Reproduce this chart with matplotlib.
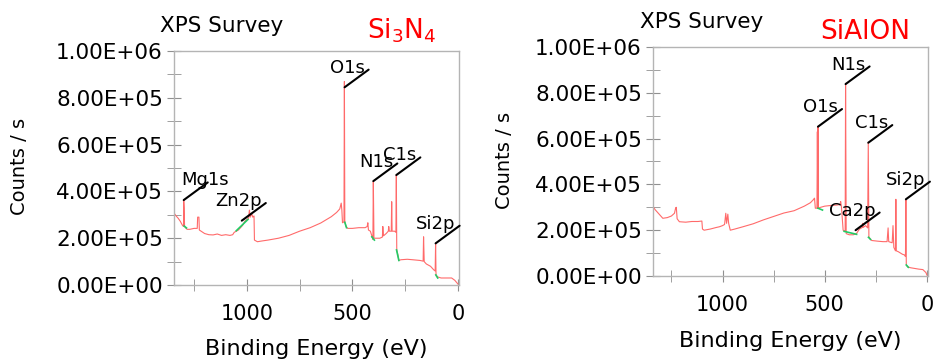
import matplotlib.pyplot as plt
from matplotlib.ticker import MultipleLocator, FuncFormatter

# Si3N4 survey spectrum: binding energy (eV) and counts / s
si3n4_be = [1345, 1335, 1325, 1315, 1305, 1300, 1299, 1297, 1295, 1290, 1283, 1270,
            1250, 1235, 1233, 1227, 1225, 1200, 1180, 1160, 1140, 1120, 1100, 1080,
            1067, 1060, 1040, 1020, 1010, 1000, 992, 988, 984, 977, 972, 966,
            964, 950, 930, 900, 850, 800, 750, 700, 650, 600, 575, 560,
            553, 550, 547, 540, 538, 536, 530, 522, 500, 470, 440, 430,
            427, 424, 415, 408, 403, 401, 398, 390, 370, 358, 356, 353,
            340, 330, 328, 325, 316, 314, 312, 300, 294, 292, 290, 285,
            280, 270, 240, 215, 180, 165, 163, 160, 150, 130, 115, 108,
            106, 104, 98, 80, 50, 30, 15, 0]
si3n4_counts = [3.08e5, 2.95e5, 2.85e5, 2.72e5, 2.55e5, 2.50e5, 3.63e5, 3.30e5, 2.50e5, 2.44e5, 2.38e5, 2.38e5,
                2.42e5, 2.42e5, 2.90e5, 2.90e5, 2.35e5, 2.20e5, 2.15e5, 2.14e5, 2.18e5, 2.12e5, 2.15e5, 2.12e5,
                2.15e5, 2.25e5, 2.35e5, 2.55e5, 2.72e5, 2.80e5, 2.85e5, 3.20e5, 2.90e5, 3.05e5, 2.90e5, 2.95e5,
                1.92e5, 1.85e5, 1.88e5, 1.92e5, 2.00e5, 2.12e5, 2.30e5, 2.45e5, 2.65e5, 2.92e5, 3.10e5, 3.25e5,
                3.50e5, 3.20e5, 2.66e5, 2.70e5, 8.70e5, 2.70e5, 2.50e5, 2.42e5, 2.42e5, 2.45e5, 2.45e5, 2.50e5,
                2.66e5, 2.35e5, 2.30e5, 2.10e5, 1.95e5, 4.42e5, 2.00e5, 2.00e5, 2.00e5, 2.05e5, 2.50e5, 2.10e5,
                2.20e5, 2.30e5, 2.50e5, 2.30e5, 2.30e5, 3.56e5, 2.30e5, 2.30e5, 2.25e5, 4.70e5, 1.50e5, 1.30e5,
                1.05e5, 1.08e5, 1.10e5, 1.08e5, 1.05e5, 1.02e5, 2.06e5, 1.00e5, 0.90e5, 0.80e5, 0.65e5, 0.60e5,
                1.78e5, 0.45e5, 0.35e5, 0.30e5, 0.30e5, 0.30e5, 0.20e5, 0.04e5]

# SiAlON survey spectrum
sialon_be = [1341, 1330, 1315, 1300, 1292, 1270, 1250, 1235, 1229, 1226, 1222, 1211,
             1180, 1150, 1120, 1101, 1098, 1090, 1060, 1030, 1015, 1000, 990, 984,
             980, 974, 970, 962, 940, 900, 850, 800, 750, 700, 650, 600,
             570, 557, 550, 546, 538, 536, 534, 533, 531, 520, 500, 470,
             440, 425, 422, 418, 410, 400, 398, 395, 380, 360, 345, 330,
             316, 314, 312, 300, 290, 287, 284, 278, 270, 240, 215, 195,
             190, 187, 170, 166, 162, 154, 152, 150, 140, 120, 110, 105,
             103, 101, 95, 80, 60, 40, 20, 5, 0]
sialon_counts = [3.06e5, 2.90e5, 2.75e5, 2.60e5, 2.52e5, 2.55e5, 2.62e5, 2.74e5, 2.98e5, 3.00e5, 2.50e5, 2.37e5,
                 2.35e5, 2.38e5, 2.38e5, 2.40e5, 2.05e5, 2.00e5, 2.05e5, 2.12e5, 2.15e5, 2.20e5, 2.25e5, 2.74e5,
                 2.30e5, 2.70e5, 2.30e5, 2.00e5, 2.05e5, 2.15e5, 2.28e5, 2.45e5, 2.60e5, 2.75e5, 2.85e5, 3.05e5,
                 3.20e5, 3.32e5, 3.40e5, 2.96e5, 2.96e5, 6.30e5, 2.96e5, 6.52e5, 2.97e5, 3.00e5, 3.05e5, 3.08e5,
                 3.10e5, 3.12e5, 3.25e5, 3.00e5, 2.00e5, 1.95e5, 8.41e5, 1.85e5, 1.80e5, 1.80e5, 1.85e5, 2.05e5,
                 2.12e5, 2.30e5, 2.12e5, 2.20e5, 2.10e5, 5.82e5, 1.72e5, 1.62e5, 1.55e5, 1.52e5, 1.50e5, 1.50e5,
                 2.10e5, 1.50e5, 1.45e5, 2.20e5, 1.25e5, 1.10e5, 3.35e5, 1.10e5, 1.06e5, 0.95e5, 0.92e5, 0.85e5,
                 3.35e5, 0.50e5, 0.40e5, 0.36e5, 0.33e5, 0.30e5, 0.28e5, 0.15e5, 0.04e5]

# background (green) segments under the peaks
si3n4_bg_be = [(1297, 1286), (1050, 995), (536, 528), (408, 396), (291, 280), (105, 96)]
si3n4_bg_counts = [(2.52e5, 2.44e5), (2.32e5, 2.80e5), (2.68e5, 2.45e5), (2.06e5, 1.92e5),
                   (1.50e5, 1.05e5), (0.43e5, 0.30e5)]
sialon_bg_be = [(533, 511), (405, 344), (286, 276), (101, 91)]
sialon_bg_counts = [(2.96e5, 2.88e5), (1.95e5, 1.82e5), (1.69e5, 1.60e5), (0.48e5, 0.38e5)]

# peak labels
si3n4_labels = ['Mg1s', 'Zn2p', 'O1s', 'N1s', 'C1s', 'Si2p']
si3n4_label_be = [1299, 1024, 537, 401, 292, 106]
si3n4_label_counts = [3.63e5, 2.75e5, 8.45e5, 4.44e5, 4.70e5, 1.78e5]
sialon_labels = ['O1s', 'N1s', 'Ca2p', 'C1s', 'Si2p']
sialon_label_be = [533, 398, 349, 287, 103]
sialon_label_counts = [6.52e5, 8.38e5, 2.00e5, 5.82e5, 3.35e5]

LINE = '#ff6a6a'
GREEN = '#22cc66'
GRID = '#b4b4b4'
FS = 15


def draw_panel(ax, be, counts, bg_be, bg_counts, labels, lab_be, lab_counts, xmax):
    ax.plot(be, counts, color=LINE, lw=0.8)
    for (b0, b1), (c0, c1) in zip(bg_be, bg_counts):
        ax.plot([b0, b1], [c0, c1], color=GREEN, lw=1.2)

    for name, b, c in zip(labels, lab_be, lab_counts):
        ax.annotate('', xy=(b, c), xytext=(17.3, 12.7), textcoords='offset points',
                    arrowprops=dict(arrowstyle='-', color='black', lw=1.5,
                                    shrinkA=0, shrinkB=0),
                    annotation_clip=False)
        dx = 15 if name == 'Mg1s' else -3
        ax.annotate(name, xy=(b, c), xytext=(17.3 + dx, 12.7 - 2.2),
                    textcoords='offset points', ha='right', va='baseline',
                    fontsize=13, color='black', annotation_clip=False)

    ax.set_xlim(xmax, -5)
    ax.set_ylim(0, 1e6)
    ax.xaxis.set_major_locator(MultipleLocator(500))
    ax.xaxis.set_minor_locator(MultipleLocator(250))
    ax.yaxis.set_major_locator(MultipleLocator(2e5))
    ax.yaxis.set_minor_locator(MultipleLocator(1e5))
    ax.yaxis.set_major_formatter(FuncFormatter(lambda v, p: f'{v:.2E}'))
    ax.tick_params(axis='x', which='both', direction='inout', length=8,
                   color='#909090', pad=10, labelsize=FS)
    ax.tick_params(axis='y', which='both', direction='inout', length=10,
                   color='#909090', pad=3, labelsize=FS + 0.5)
    for s in ax.spines.values():
        s.set_color(GRID)
        s.set_linewidth(1.0)


fig = plt.figure(figsize=(9.33, 3.59), dpi=100)
fig.patch.set_facecolor('white')

ax1 = fig.add_axes([0.1865, 0.2061, 0.3055, 0.6518])
draw_panel(ax1, si3n4_be, si3n4_counts, si3n4_bg_be, si3n4_bg_counts,
           si3n4_labels, si3n4_label_be, si3n4_label_counts, 1345)

ax2 = fig.add_axes([0.6999, 0.2312, 0.2947, 0.6379])
draw_panel(ax2, sialon_be, sialon_counts, sialon_bg_be, sialon_bg_counts,
           sialon_labels, sialon_label_be, sialon_label_counts, 1340)

# titles, sample names and axis labels
fig.text(0.1715, 0.910, 'XPS Survey', fontsize=15.5, va='baseline')
fig.text(0.686, 0.921, 'XPS Survey', fontsize=15.5, va='baseline')
fig.text(0.3934, 0.8914, r'Si$_3$N$_4$', fontsize=19, color='red', va='baseline')
fig.text(0.8789, 0.8914, 'SiAlON', fontsize=19, color='red', va='baseline')

fig.text(0.0214, 0.535, 'Counts / s', fontsize=14, rotation=90, ha='center', va='center')
fig.text(0.5407, 0.554, 'Counts / s', fontsize=14, rotation=90, ha='center', va='center')
fig.text(0.3387, 0.0111, 'Binding Energy (eV)', fontsize=16, ha='center', va='baseline')
fig.text(0.8467, 0.0334, 'Binding Energy (eV)', fontsize=16, ha='center', va='baseline')

fig.savefig('out.png', dpi=100)
